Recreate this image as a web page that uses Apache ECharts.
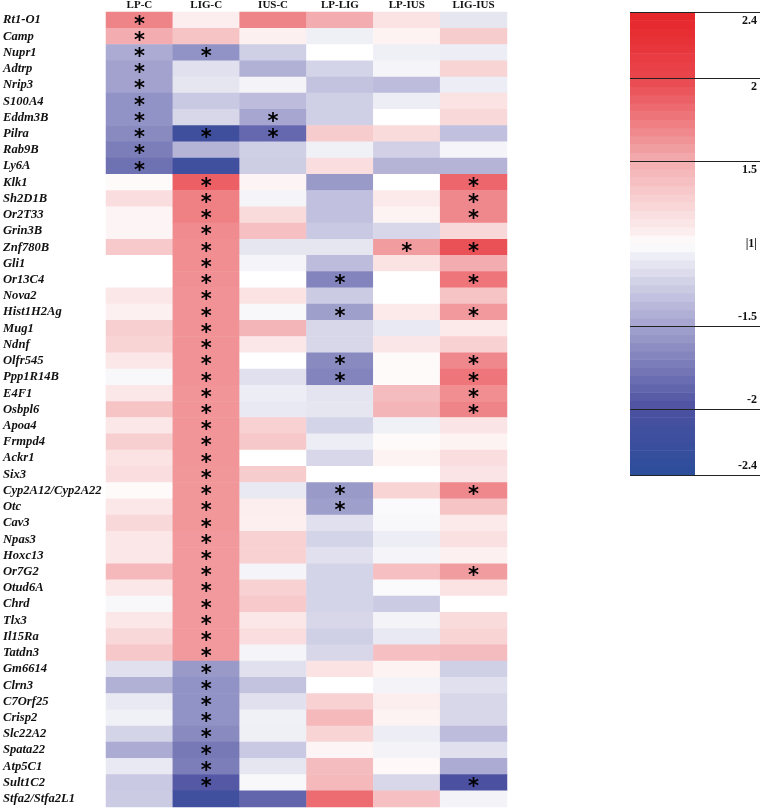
<!DOCTYPE html>
<html>
<head>
<meta charset="utf-8">
<script src="https://cdn.jsdelivr.net/npm/echarts@6/dist/echarts.min.js"></script>
<style>
html,body{margin:0;padding:0;background:#fff;}
#chart{width:762px;height:809px;}
</style>
</head>
<body>
<div id="chart"></div>
<script>
const genes = ['Rt1-O1','Camp','Nupr1','Adtrp','Nrip3','S100A4','Eddm3B','Pilra','Rab9B','Ly6A',
'Klk1','Sh2D1B','Or2T33','Grin3B','Znf780B','Gli1','Or13C4','Nova2','Hist1H2Ag','Mug1',
'Ndnf','Olfr545','Ppp1R14B','E4F1','Osbpl6','Apoa4','Frmpd4','Ackr1','Six3','Cyp2A12/Cyp2A22',
'Otc','Cav3','Npas3','Hoxc13','Or7G2','Otud6A','Chrd','Tlx3','Il15Ra','Tatdn3',
'Gm6614','Clrn3','C7Orf25','Crisp2','Slc22A2','Spata22','Atp5C1','Sult1C2','Stfa2/Stfa2L1'];

const columns = ['LP-C','LIG-C','IUS-C','LP-LIG','LP-IUS','LIG-IUS'];

// fold-change values (scale: -2.4..-1 and 1..2.4)
const lpC = [1.7,1.5,-1.45,-1.5,-1.5,-1.6,-1.6,-1.65,-1.72,-1.8,
1.02,1.18,1.04,1.04,1.32,1.0,1.0,1.12,1.06,1.28,
1.25,1.12,-1.03,1.12,1.35,1.12,1.28,1.15,1.18,1.02,
1.12,1.22,1.12,1.12,1.42,1.12,-1.03,1.12,1.22,1.33,
-1.15,-1.42,-1.1,-1.06,-1.22,-1.45,-1.1,-1.28,-1.27];
const ligC = [1.08,1.35,-1.6,-1.15,-1.12,-1.28,-1.2,-2.15,-1.4,-2.12,
1.88,1.72,1.72,1.66,1.65,1.65,1.64,1.63,1.63,1.63,
1.63,1.63,1.63,1.62,1.62,1.62,1.62,1.62,1.61,1.61,
1.61,1.61,1.6,1.6,1.6,1.6,1.6,1.6,1.6,1.6,
-1.55,-1.6,-1.6,-1.6,-1.65,-1.75,-1.72,-1.95,-2.12];
const iusC = [1.7,1.06,-1.25,-1.42,-1.05,-1.35,-1.48,-1.85,-1.25,-1.26,
1.04,-1.04,1.2,1.38,-1.12,-1.04,1.0,1.15,-1.03,1.45,
1.12,1.0,-1.15,-1.08,-1.1,1.27,1.33,1.0,1.3,-1.1,
1.08,1.07,1.27,1.27,-1.04,1.27,1.32,1.12,1.18,-1.04,
-1.15,-1.32,-1.15,-1.06,-1.07,-1.28,-1.12,-1.03,-1.87];
const lpLig = [1.5,-1.07,1.0,-1.22,-1.32,-1.25,-1.25,1.3,-1.06,1.18,
-1.55,-1.33,-1.33,-1.28,-1.12,-1.35,-1.68,-1.27,-1.52,-1.2,
-1.2,-1.65,-1.68,-1.13,-1.12,-1.22,-1.08,-1.2,1.0,-1.55,
-1.52,-1.15,-1.22,-1.15,-1.22,-1.22,-1.22,-1.2,-1.25,-1.2,
1.15,1.0,1.27,1.42,1.25,1.04,1.4,1.42,1.82];
const lpIus = [1.15,1.05,-1.07,-1.04,-1.35,-1.08,1.0,1.2,-1.24,-1.4,
1.0,1.1,1.05,-1.2,1.58,1.15,1.0,1.0,1.1,-1.1,
1.13,1.02,1.02,1.4,1.45,-1.06,1.02,1.05,1.0,1.25,
-1.02,-1.03,-1.08,-1.04,1.37,-1.02,-1.27,-1.05,-1.1,1.37,
1.05,-1.05,1.08,1.05,-1.08,-1.05,1.03,-1.2,1.37];
const ligIus = [-1.12,1.3,-1.08,1.25,-1.08,1.15,1.22,-1.33,-1.04,-1.4,
1.85,1.68,1.68,1.22,1.95,1.5,1.77,1.35,1.6,1.1,
1.27,1.68,1.77,1.65,1.7,1.14,1.05,1.18,1.14,1.68,
1.35,1.1,1.17,1.06,1.58,1.15,1.0,1.2,1.25,1.4,
-1.25,-1.15,-1.2,-1.2,-1.35,-1.15,-1.45,-2.0,-1.05];

// significant cells (0-based gene indices) per column
const starsLpC = [0,1,2,3,4,5,6,7,8,9];
const starsLigC = [2,7,10,11,12,13,14,15,16,17,18,19,20,21,22,23,24,25,26,27,28,29,30,31,32,33,34,35,36,37,38,39,40,41,42,43,44,45,46,47];
const starsIusC = [6,7];
const starsLpLig = [16,18,21,22,29,30];
const starsLpIus = [14];
const starsLigIus = [10,11,12,14,16,18,21,22,23,24,29,34,47];

const legendTicks = [2.4, 2, 1.5, -1.5, -2, -2.4];

const colValues = [lpC, ligC, iusC, lpLig, lpIus, ligIus];
const colStars = [starsLpC, starsLigC, starsIusC, starsLpLig, starsLpIus, starsLigIus];

// map fold value to collapsed scale (|1| at 0)
function toScale(v){ return v >= 0 ? v - 1 : v + 1; }

const heatData = [];
colValues.forEach((arr, c) => {
  arr.forEach((v, r) => {
    heatData.push([c, r, toScale(v), colStars[c].indexOf(r) >= 0 ? 1 : 0]);
  });
});

// colour key bands
const legendBands = [];
for (let k = 0; k < 56; k++) {
  const lo = -1.4 + k * 0.05, hi = lo + 0.05;
  legendBands.push([lo, hi, (lo + hi) / 2]);
}

// colour ramp
const stops = [
  [-1.4, [43,78,155]],
  [-1.0, [75,80,160]],
  [-0.5, [163,162,206]],
  [-0.05,[242,242,248]],
  [0,    [255,255,255]],
  [0.05, [253,242,242]],
  [0.5,  [243,173,176]],
  [1.0,  [233,71,77]],
  [1.4,  [229,35,40]]
];
function rampColor(t){
  for (let i = 0; i < stops.length - 1; i++) {
    const a = stops[i], b = stops[i+1];
    if (t >= a[0] - 1e-9 && t <= b[0] + 1e-9) {
      const f = (t - a[0]) / (b[0] - a[0]);
      const c = a[1].map((x, j) => Math.round(x + f * (b[1][j] - x)));
      return 'rgb(' + c.join(',') + ')';
    }
  }
  return t < 0 ? 'rgb(43,78,155)' : 'rgb(229,35,40)';
}
const ramp = [];
for (let k = 0; k <= 140; k++) ramp.push(rampColor(-1.4 + k * 0.02));

const serif = 'Liberation Serif';

const markLines = legendTicks.map(v => {
  const t = toScale(v);
  return [
    { coord: [0, t], label: { formatter: String(v), position: v > 0 ? 'insideEndBottom' : 'insideEndTop' } },
    { coord: [2, t] }
  ];
});

const chart = echarts.init(document.getElementById('chart'), null, {renderer: 'canvas'});
chart.setOption({
  backgroundColor: '#ffffff',
  animation: false,
  grid: [
    { left: 106, top: 11, width: 401, height: 796 },
    { left: 630, top: 12, width: 130, height: 463 }
  ],
  xAxis: [
    { type: 'category', data: columns, position: 'top', gridIndex: 0,
      axisLine: {show: false}, axisTick: {show: false}, splitLine: {show: false},
      axisLabel: { interval: 0, margin: 1, fontFamily: serif, fontWeight: 'bold', fontSize: 11, color: '#111' } },
    { type: 'value', gridIndex: 1, min: 0, max: 2, show: false }
  ],
  yAxis: [
    { type: 'category', data: genes, inverse: true, gridIndex: 0,
      axisLine: {show: false}, axisTick: {show: false}, splitLine: {show: false},
      axisLabel: { interval: 0, align: 'left', margin: 103, fontFamily: serif, fontWeight: 'bold', fontStyle: 'italic', fontSize: 12.6, color: '#111' } },
    { type: 'value', gridIndex: 1, min: -1.4, max: 1.4, interval: 0.7, position: 'right',
      axisLine: {show: false}, axisTick: {show: false}, splitLine: {show: false},
      axisLabel: { inside: true, margin: 3, fontFamily: serif, fontWeight: 'bold', fontSize: 12, color: '#111',
        formatter: v => Math.abs(v) < 1e-9 ? '|1|' : '' } }
  ],
  visualMap: {
    type: 'continuous', show: false, min: -1.4, max: 1.4, dimension: 2,
    seriesIndex: [0, 1], inRange: { color: ramp }
  },
  series: [
    {
      type: 'heatmap', xAxisIndex: 0, yAxisIndex: 0, data: heatData,
      itemStyle: { borderWidth: 0 },
      emphasis: { disabled: true },
      label: { show: true, formatter: p => p.data[3] ? '*' : '', fontFamily: 'DejaVu Sans', fontWeight: 'bold', fontSize: 21, color: '#000', offset: [0, 5] }
    },
    {
      type: 'custom', xAxisIndex: 1, yAxisIndex: 1, data: legendBands,
      encode: { y: [0, 1] },
      renderItem: (params, api) => {
        const p0 = api.coord([0, api.value(1)]);
        const p1 = api.coord([1, api.value(0)]);
        return { type: 'rect', shape: { x: p0[0], y: p0[1], width: p1[0] - p0[0], height: p1[1] - p0[1] + 0.5 },
                 style: { fill: api.visual('color') } };
      },
      markLine: {
        silent: true, symbol: ['none', 'none'], animation: false,
        lineStyle: { color: '#222', width: 1.2, type: 'solid' },
        label: { fontFamily: serif, fontWeight: 'bold', fontSize: 12, color: '#111', distance: 3 },
        data: markLines
      }
    }
  ]
});
</script>
</body>
</html>
